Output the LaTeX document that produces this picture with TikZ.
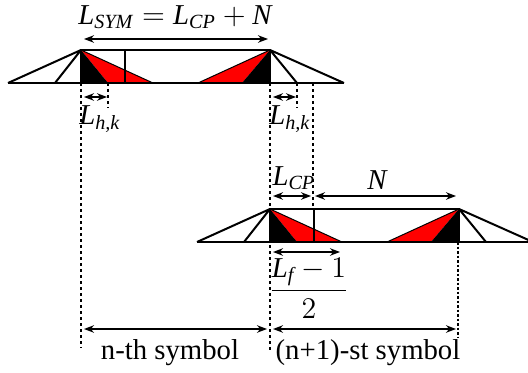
\documentclass[tikz,border=0pt]{standalone}
\usepackage{amsmath}
\usepackage{fontspec}
\setmainfont{Liberation Serif}
\usetikzlibrary{arrows.meta}

\newcommand{\tl}[1]{\textit{#1}}

\tikzset{
  dimline/.style={line width=0.6pt,{Stealth[length=4pt,width=3pt]}-{Stealth[length=4pt,width=3pt]}},
  guide/.style={line width=0.9pt,dash pattern=on 1.2pt off 1.2pt},
  thinguide/.style={line width=0.5pt,dash pattern=on 1pt off 0.8pt},
  outline/.style={line width=0.8pt},
  lbl/.style={font=\rmfamily\fontsize{11.5}{13}\selectfont,inner sep=0pt}
}

\begin{document}
\begin{tikzpicture}[x=0.4pt,y=-0.4pt,line join=round]
  \useasboundingbox (0,0) rectangle (528,373);
  % two symbols, one shifted against the other
  \foreach \p/\t in {81/50,270/209} {
    \begin{scope}[shift={(\p,\t)}]
      \fill[red] (0,0) -- (27,33) -- (72,33) -- cycle;
      \fill[black] (0,0) -- (0,33) -- (27,33) -- cycle;
      \fill[red] (189,0) -- (117,33) -- (161,33) -- cycle;
      \fill[black] (189,0) -- (161,33) -- (189,33) -- cycle;
      \draw[outline] (-73,33) -- (263,33);
      \draw[outline] (0,0) -- (189,0);
      \draw[outline] (-73,33) -- (0,0) -- (-26,33);
      \draw[outline] (0,0) -- (0,33);
      \draw[line width=0.4pt] (0,0) -- (72,33);
      \draw[line width=0.4pt] (189,0) -- (117,33);
      \draw[outline] (189,0) -- (189,33);
      \draw[outline] (263,33) -- (189,0) -- (216,33);
      \draw[line width=0.6pt] (44,0) -- (44,33);
    \end{scope}
  }
  \coordinate (A) at (81,83);
  \coordinate (B) at (270,83);
  \coordinate (C) at (458,242);
  % dotted guides
  \draw[guide] (A) -- (81,348);
  \draw[guide] (108,83) -- (108,108);
  \draw[guide] (B) -- (270,350);
  \draw[guide] (297,83) -- (297,108);
  \draw[guide] (313,83) -- (313,209);
  \draw[thinguide] (C) -- (458,338);
  % dimensions
  \draw[dimline] (84,39) -- (268,39);
  \node[lbl] at (175,17) {$\tl{L}_{\tl{SYM}}=\tl{L}_{\tl{CP}}+\tl{N}$};
  \draw[dimline] (84,97) -- (107,97);
  \node[lbl] at (100,119) {$\tl{L}_{\tl{h,k}}$};
  \draw[dimline] (273,97) -- (296,97);
  \node[lbl] at (290,119) {$\tl{L}_{\tl{h,k}}$};
  \draw[dimline] (273,196) -- (311,196);
  \node[lbl] at (294,178) {$\tl{L}_{\tl{CP}}$};
  \draw[dimline] (315,196) -- (456,196);
  \node[lbl] at (377,180) {$\tl{N}$};
  \draw[dimline] (273,252) -- (340,252);
  \node[lbl] at (309,288) {$\dfrac{\tl{L}_{\tl{f}}-1}{2}$};
  \draw[dimline] (84,329) -- (267,329);
  \draw[dimline] (273,329) -- (456,329);
  \node[lbl] at (170,353) {n-th symbol};
  \node[lbl] at (368,353) {(n+1)-st symbol};
\end{tikzpicture}
\end{document}
